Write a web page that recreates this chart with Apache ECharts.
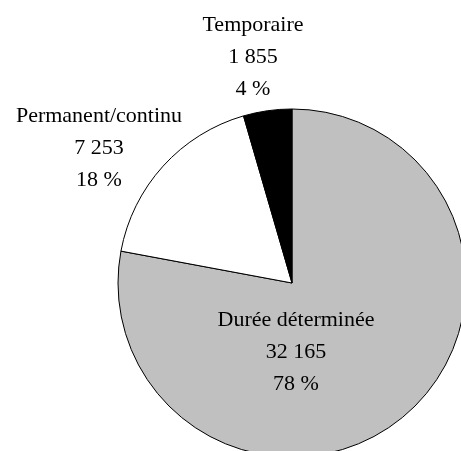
<!DOCTYPE html>
<html>
<head>
<meta charset="utf-8">
<script src="https://cdn.jsdelivr.net/npm/echarts@6/dist/echarts.min.js"></script>
<style>
html,body{margin:0;padding:0;background:#fff;}
#main{width:461px;height:451px;}
</style>
</head>
<body>
<div id="main"></div>
<script>
var categories = ['Durée déterminée', 'Permanent/continu', 'Temporaire'];
var values = [32165, 7253, 1855];
var colors = ['#c0c0c0', '#ffffff', '#000000'];

// label centres (middle line) for each slice
var labelPos = [[296, 352], [99, 148], [253, 57]];

function fmtNum(n) {
	return String(n).replace(/\B(?=(\d{3})+(?!\d))/g, ' ');
}

var total = 0;
for (var k = 0; k < values.length; k++) total += values[k];

var chart = echarts.init(document.getElementById('main'));
var pieData = [];
for (var i = 0; i < categories.length; i++) {
	pieData.push({ name: categories[i], value: values[i], itemStyle: { color: colors[i] } });
}

var option = {
	animation: false,
	series: [{
		type: 'pie',
		center: [292, 283],
		radius: 174,
		startAngle: 90,
		clockwise: true,
		silent: true,
		itemStyle: { borderColor: '#000', borderWidth: 1 },
		label: {
			show: true,
			position: 'inside',
			fontFamily: 'Liberation Serif',
			fontSize: 22,
			lineHeight: 32,
			color: '#000',
			align: 'center',
			formatter: function(p) {
				return p.name + '\n' + fmtNum(p.value) + '\n' + Math.round(p.value / total * 100) + ' %';
			}
		},
		labelLine: { show: false },
		labelLayout: function(p) {
			var pos = labelPos[p.dataIndex];
			return { x: pos[0], y: pos[1], align: 'center', verticalAlign: 'middle' };
		},
		data: pieData
	}]
};
chart.setOption(option);
</script>
</body>
</html>
